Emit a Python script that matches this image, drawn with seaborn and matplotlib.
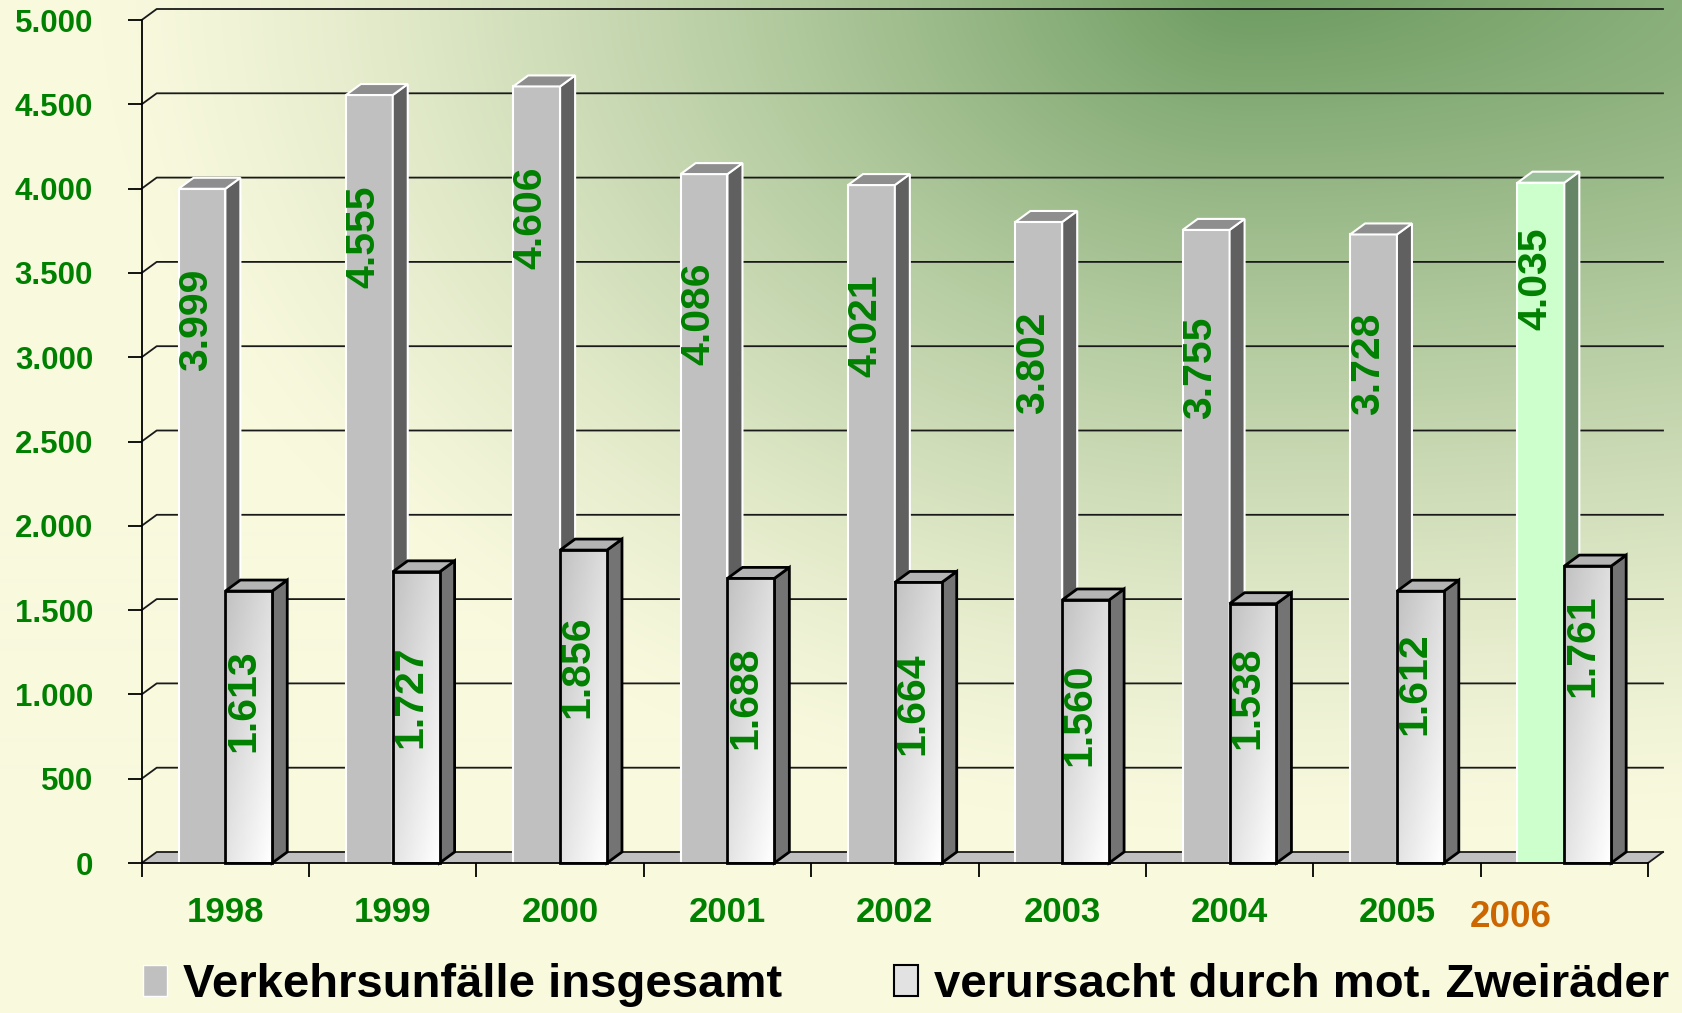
import numpy as np
import pandas as pd
import matplotlib
matplotlib.use("Agg")
import matplotlib.pyplot as plt
import matplotlib.transforms as mtransforms
from matplotlib.patches import Polygon, Patch
from matplotlib import font_manager
import seaborn as sns

# --- data ---
years = ["1998", "1999", "2000", "2001", "2002", "2003", "2004", "2005", "2006"]
total = [3999, 4555, 4606, 4086, 4021, 3802, 3755, 3728, 4035]
moto = [1613, 1727, 1856, 1688, 1664, 1560, 1538, 1612, 1761]
series = ["Verkehrsunfälle insgesamt", "verursacht durch mot. Zweiräder"]
y_ticks = list(range(0, 5001, 500))

# how far (px) each value label sits below its bar top
total_drop = [80, 90, 80, 88, 89, 90, 87, 78, 45]
moto_drop = [58, 74, 65, 68, 70, 64, 43, 41, 28]

GREEN = "#008000"
ORANGE = "#CC6600"

names = {f.name for f in font_manager.fontManager.ttflist}
narrow = "Liberation Sans Narrow" in names
year_font = ["Liberation Sans Narrow", "Liberation Sans"] if narrow else ["Liberation Sans"]
year_size = 30 if narrow else 25

df = pd.DataFrame({
    "Jahr": years * 2,
    "Serie": [series[0]] * len(years) + [series[1]] * len(years),
    "Anzahl": total + moto,
})

fig = plt.figure(figsize=(16.83, 10.13), dpi=100)

# background gradient (cream -> green towards the top right)
bg = fig.add_axes([0, 0, 1, 1], zorder=-1)
bg.axis("off")
H, W = 1013, 1683
yy, xx = np.mgrid[0:H, 0:W]
cx, cy = 1250, -20
rx = np.where(xx < cx, 1150, 2500)
d = np.sqrt(((xx - cx) / rx) ** 2 + ((yy - cy) / 850) ** 2)
t = (np.clip(1 - d, 0, 1) ** 1.3)[..., None]
cream = np.array([249, 249, 222]) / 255
green = np.array([106, 154, 94]) / 255
bg.imshow(cream * (1 - t) + green * t, extent=(0, 1, 0, 1), aspect="auto", origin="upper")

ax = fig.add_axes([141.7 / 1683, 150 / 1013, (1648 - 141.7) / 1683, 843 / 1013])
ax.set_facecolor("none")

sns.barplot(data=df, x="Jahr", y="Anzahl", hue="Serie",
            palette=["#C0C0C0", "#F0F0F0"], width=0.56, gap=0,
            saturation=1, ax=ax, legend=False)
ax.set_xlim(-0.5, 8.5)
ax.set_ylim(0, 5000)

# depth offset of the fake 3D in data units
p0 = ax.transData.transform((0, 0))
dx, dy = ax.transData.inverted().transform(p0 + np.array([15, 11]))

# back wall grid + floor
for yv in y_ticks:
    ax.plot([-0.5, -0.5 + dx, 8.5 + dx], [yv, yv + dy, yv + dy],
            color="#1a1a1a", lw=1.3, clip_on=False, zorder=1)
ax.add_patch(Polygon([(-0.5, 0), (8.5, 0), (8.5 + dx, dy), (-0.5 + dx, dy)],
                     closed=True, facecolor="#C0C0C0", edgecolor="none",
                     clip_on=False, zorder=0.5))
ax.plot([8.5, 8.5 + dx], [0, dy], color="#1a1a1a", lw=1.3, clip_on=False, zorder=1)


def add_box(bar, side_c, top_c, edge, lw, z):
    x0, w, h = bar.get_x(), bar.get_width(), bar.get_height()
    x1 = x0 + w
    side = Polygon([(x1, 0), (x1 + dx, dy), (x1 + dx, h + dy), (x1, h)], closed=True,
                   facecolor=side_c, edgecolor=edge, lw=lw, clip_on=False, zorder=z)
    top = Polygon([(x0, h), (x0 + dx, h + dy), (x1 + dx, h + dy), (x1, h)], closed=True,
                  facecolor=top_c, edgecolor=edge, lw=lw, clip_on=False, zorder=z)
    ax.add_patch(side)
    ax.add_patch(top)
    bar.set_edgecolor(edge)
    bar.set_linewidth(lw)
    bar.set_clip_on(False)


gray_bars, moto_bars = ax.containers[0], ax.containers[1]
xf = np.linspace(0, 1, 20)[None, :]
yf = np.linspace(0, 1, 80)[:, None]
shade = 0.76 + 0.24 * (0.45 * xf + 0.55 * yf)

for i in range(len(years)):
    z = 3 + i
    gb = gray_bars[i]
    if years[i] == "2006":
        gb.set_facecolor("#CCFFCC")
        add_box(gb, "#668466", "#9CC09C", "white", 1.5, z)
    else:
        add_box(gb, "#606060", "#8E8E8E", "white", 1.5, z)
    gb.set_zorder(z)

    mb = moto_bars[i]
    add_box(mb, "#747474", "#B4B4B4", "black", 2, z + 0.5)
    x0, w, h = mb.get_x(), mb.get_width(), mb.get_height()
    im = ax.imshow(shade, cmap="gray", vmin=0, vmax=1, extent=(x0, x0 + w, 0, h),
                   origin="upper", aspect="auto", interpolation="bilinear", zorder=z + 0.5)
    im.set_clip_path(mb)
    mb.set_facecolor("none")
    mb.set_zorder(z + 0.6)

ax.set_xlim(-0.5, 8.5)
ax.set_ylim(0, 5000)

# value labels
for bars, vals, drops in [(gray_bars, total, total_drop), (moto_bars, moto, moto_drop)]:
    for bar, v, dp in zip(bars, vals, drops):
        tr = ax.transData + mtransforms.ScaledTranslation(0, -dp / 100, fig.dpi_scale_trans)
        ax.text(bar.get_x() + bar.get_width() / 2 - 0.035, bar.get_height(),
                f"{v:,}".replace(",", "."), rotation=90, ha="center", va="top",
                color=GREEN, fontsize=29.5, fontweight="bold",
                family="Liberation Sans", transform=tr, zorder=20)

# axes styling
ax.set_xlabel("")
ax.set_ylabel("")
for s in ["top", "right"]:
    ax.spines[s].set_visible(False)
for s in ["left", "bottom"]:
    ax.spines[s].set_color("black")
    ax.spines[s].set_linewidth(1.3)
    ax.spines[s].set_zorder(30)

ax.set_yticks(y_ticks)
ax.set_yticklabels([f"{v:,}".replace(",", ".") for v in y_ticks],
                   fontsize=22.5, fontweight="bold", color=GREEN, family="Liberation Sans")
ax.tick_params(axis="y", length=10, width=1.3, pad=25, color="black")

ax.set_xticks(range(len(years)))
ax.set_xticklabels(years, fontsize=year_size, fontweight="bold", color=GREEN, family=year_font)
ax.set_xticks(np.arange(-0.5, len(years), 1), minor=True)
ax.tick_params(axis="x", which="major", length=0, pad=24)
ax.tick_params(axis="x", which="minor", length=10, width=1.3, direction="out", color="black")

for lbl in ax.get_xticklabels():
    if lbl.get_text() == "2006":
        lbl.set_color(ORANGE)
        lbl.set_fontsize(year_size + 1.5)
        lbl.set_transform(lbl.get_transform() +
                          mtransforms.ScaledTranslation(-0.54, -0.04, fig.dpi_scale_trans))

# legend
legend_kw = dict(loc="center left", frameon=False, borderpad=0, borderaxespad=0,
                 handlelength=0.51, handleheight=0.64, handletextpad=0.34,
                 prop={"family": "Liberation Sans", "weight": "bold", "size": 34})
fig.legend(handles=[Patch(facecolor="#C0C0C0", edgecolor="white", label=series[0])],
           bbox_to_anchor=(143 / 1683, 28 / 1013), **legend_kw)
fig.legend(handles=[Patch(facecolor="#E2E2E2", edgecolor="black", lw=1.5, label=series[1])],
           bbox_to_anchor=(894 / 1683, 28 / 1013), **legend_kw)

fig.savefig("out.png", dpi=100)
